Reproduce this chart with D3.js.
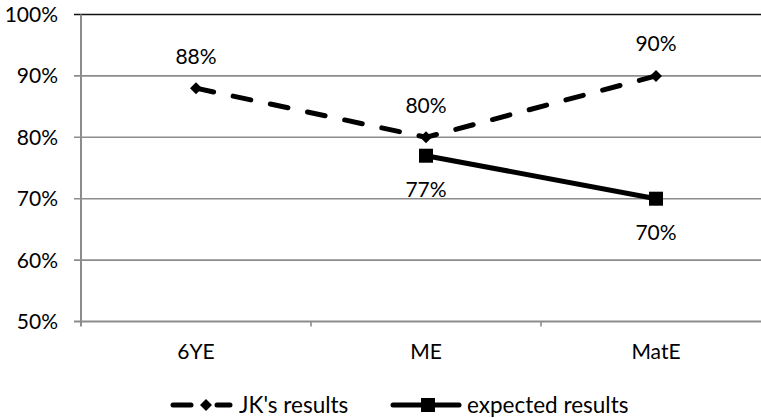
<!DOCTYPE html>
<html>
<head>
<meta charset="utf-8">
<script src="https://cdn.jsdelivr.net/npm/d3@7"></script>
<style>
  body { margin: 0; background: #fff; }
  text { font-family: Lato, "Open Sans", sans-serif; fill: #000; }
</style>
</head>
<body>
<div id="chart-area"></div>
<script>
// Datos
const categories = ["6YE", "ME", "MatE"];
const jkResults = [0.88, 0.80, 0.90];
const expectedResults = [null, 0.77, 0.70];
const yTicks = [0.5, 0.6, 0.7, 0.8, 0.9, 1.0];

const width = 761, height = 418;
const fontSize = 21;

const svg = d3.select("#chart-area")
    .append("svg")
    .attr("width", width)
    .attr("height", height);

// Escalas
const x = d3.scaleBand()
    .domain(categories)
    .range([81, 771]);

const y = d3.scaleLinear()
    .domain([0.5, 1.0])
    .range([321.5, 14.5]);

const fmt = d3.format(".0%");
const cx = c => x(c) + x.bandwidth() / 2;

// Rejilla
svg.selectAll("line.grid")
    .data(yTicks)
    .enter()
    .append("line")
    .attr("x1", 74)
    .attr("x2", width)
    .attr("y1", d => y(d))
    .attr("y2", d => y(d))
    .attr("stroke", d => d === 1.0 ? "#111" : "#8c8c8c")
    .attr("stroke-width", d => d === 0.5 ? 2.2 : 1.6);

// Eje Y
svg.append("line")
    .attr("x1", 81).attr("x2", 81)
    .attr("y1", y(1.0)).attr("y2", y(0.5) + 5)
    .attr("stroke", "#8c8c8c")
    .attr("stroke-width", 2);

// Marcas del eje X entre categorías
svg.selectAll("line.xtickmark")
    .data(categories.slice(1))
    .enter()
    .append("line")
    .attr("x1", d => x(d)).attr("x2", d => x(d))
    .attr("y1", y(0.5)).attr("y2", y(0.5) + 5)
    .attr("stroke", "#8c8c8c")
    .attr("stroke-width", 1.6);

svg.selectAll("text.ytick")
    .data(yTicks)
    .enter()
    .append("text")
    .attr("x", 58)
    .attr("y", d => y(d))
    .attr("dy", "0.36em")
    .attr("text-anchor", "end")
    .attr("font-size", fontSize)
    .text(d => fmt(d));

// Etiquetas X
svg.selectAll("text.xtick")
    .data(categories)
    .enter()
    .append("text")
    .attr("x", d => cx(d))
    .attr("y", 351)
    .attr("dy", "0.36em")
    .attr("text-anchor", "middle")
    .attr("font-size", fontSize)
    .text(d => d);

// Serie JK (discontinua)
const jkData = jkResults.map((v, i) => ({ c: categories[i], v }));
const line = d3.line()
    .x(d => cx(d.c))
    .y(d => y(d.v));

svg.append("path")
    .datum(jkData)
    .attr("d", line)
    .attr("fill", "none")
    .attr("stroke", "#000")
    .attr("stroke-width", 5)
    .attr("stroke-linecap", "round")
    .attr("stroke-dasharray", "18,20");

// rombo = cuadrado girado 45°
const diamond = d3.symbol().type(d3.symbolSquare).size(72);
svg.selectAll("path.jk")
    .data(jkData)
    .enter()
    .append("path")
    .attr("transform", d => `translate(${cx(d.c)},${y(d.v)}) rotate(45)`)
    .attr("d", diamond)
    .attr("fill", "#000");

// Serie esperada (continua)
const expData = expectedResults
    .map((v, i) => ({ c: categories[i], v }))
    .filter(d => d.v !== null);

svg.append("path")
    .datum(expData)
    .attr("d", line)
    .attr("fill", "none")
    .attr("stroke", "#000")
    .attr("stroke-width", 5)
    .attr("stroke-linecap", "round");

svg.selectAll("rect.exp")
    .data(expData)
    .enter()
    .append("rect")
    .attr("x", d => cx(d.c) - 7)
    .attr("y", d => y(d.v) - 7)
    .attr("width", 14)
    .attr("height", 14)
    .attr("fill", "#000");

// Etiquetas de datos
svg.selectAll("text.jklab")
    .data(jkData)
    .enter()
    .append("text")
    .attr("x", d => cx(d.c))
    .attr("y", d => y(d.v) - 32)
    .attr("dy", "0.36em")
    .attr("text-anchor", "middle")
    .attr("font-size", fontSize)
    .text(d => fmt(d.v));

svg.selectAll("text.explab")
    .data(expData)
    .enter()
    .append("text")
    .attr("x", d => cx(d.c))
    .attr("y", d => y(d.v) + 34)
    .attr("dy", "0.36em")
    .attr("text-anchor", "middle")
    .attr("font-size", fontSize)
    .text(d => fmt(d.v));

// Leyenda
const legendFont = 22.5;
const legend = svg.append("g").attr("transform", "translate(0,405)");

legend.append("line")
    .attr("x1", 173).attr("x2", 230)
    .attr("stroke", "#000").attr("stroke-width", 5)
    .attr("stroke-linecap", "round")
    .attr("stroke-dasharray", "18,26");
legend.append("path")
    .attr("transform", "translate(206,0) rotate(45)")
    .attr("d", diamond)
    .attr("fill", "#000");
legend.append("text")
    .attr("x", 239).attr("dy", "0.36em")
    .attr("font-size", legendFont)
    .text("JK's results");

legend.append("line")
    .attr("x1", 393).attr("x2", 459)
    .attr("stroke", "#000").attr("stroke-width", 5)
    .attr("stroke-linecap", "round");
legend.append("rect")
    .attr("x", 421).attr("y", -7)
    .attr("width", 14).attr("height", 14)
    .attr("fill", "#000");
legend.append("text")
    .attr("x", 467).attr("dy", "0.36em")
    .attr("font-size", legendFont)
    .text("expected results");
</script>
</body>
</html>
